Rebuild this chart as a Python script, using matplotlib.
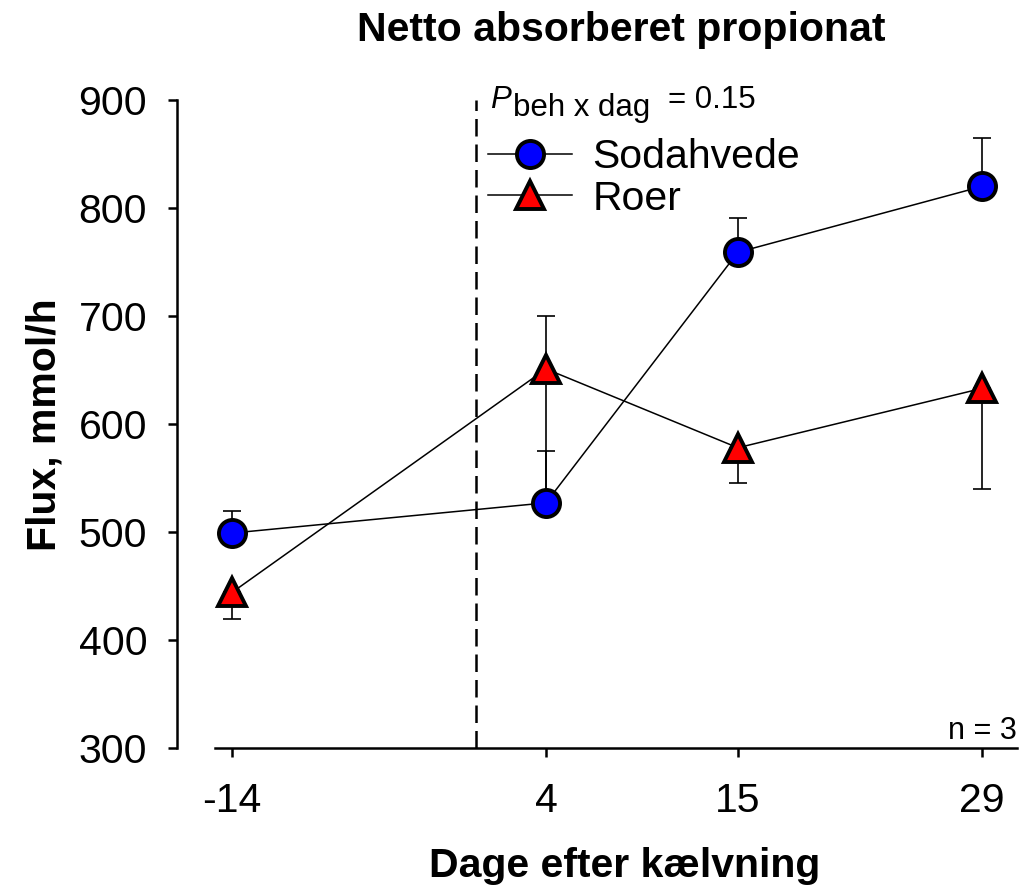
import matplotlib
matplotlib.use("Agg")
import matplotlib.pyplot as plt
from matplotlib.lines import Line2D

plt.rcParams["font.family"] = ["Liberation Sans", "DejaVu Sans"]
plt.rcParams["axes.unicode_minus"] = False

days = [-14, 4, 15, 29]
day_labels = ["-14", "4", "15", "29"]

soda = [499, 527, 759, 820]
soda_err_up = [20, 48, 32, 45]
soda_err_down = [0, 0, 0, 0]

roer = [444, 651, 578, 633]
roer_err_up = [0, 49, 0, 0]
roer_err_down = [25, 124, 33, 93]

W, H = 1021, 893


def fx(px):
    return px / W


def fy(py):
    return 1 - py / H


fig = plt.figure(figsize=(W / 100, H / 100), dpi=100)
ax = fig.add_axes([fx(177), fy(748), (1017 - 177) / W, (748 - 100) / H])

# treatment start
ax.axvline(0, color="black", lw=1.8, linestyle=(0, (7, 3.2)), zorder=1)

ax.errorbar(days, roer, yerr=[roer_err_down, roer_err_up], fmt="none",
            ecolor="black", elinewidth=1.2, capsize=6.5, capthick=1.2, zorder=2)
ax.errorbar(days, soda, yerr=[soda_err_down, soda_err_up], fmt="none",
            ecolor="black", elinewidth=1.2, capsize=6.5, capthick=1.2, zorder=2)

mk = dict(markersize=19.5, markeredgecolor="black", markeredgewidth=2.8)
ax.plot(days, roer, color="black", lw=1.1, marker="^",
        markerfacecolor="red", zorder=3, **mk)
ax.plot(days, soda, color="black", lw=1.1, marker="o",
        markerfacecolor="blue", zorder=4, **mk)

ax.set_xlim(-17.15, 31.0)
ax.set_ylim(300, 900)
ax.set_xticks(days)
ax.set_xticklabels(day_labels)
ax.set_yticks(range(300, 901, 100))

for side in ["top", "right"]:
    ax.spines[side].set_visible(False)
ax.spines["left"].set_linewidth(1.8)
ax.spines["bottom"].set_linewidth(1.8)
ax.spines["left"].set_bounds(300, 900)
ax.spines["bottom"].set_bounds(-15, 31)

ax.tick_params(axis="both", direction="out", length=6.5, width=1.8,
               labelsize=29.5)
ax.tick_params(axis="y", pad=15)
ax.tick_params(axis="x", pad=18)

handles = [
    Line2D([], [], color="black", lw=1.1, marker="o",
           markerfacecolor="blue", **mk),
    Line2D([], [], color="black", lw=1.1, marker="^",
           markerfacecolor="red", **mk),
]
fig.legend(handles, ["Sodahvede", "Roer"], loc="center left",
           bbox_to_anchor=(fx(488), fy(178)), frameon=False, fontsize=29.5,
           handlelength=2.05, handletextpad=0.5, labelspacing=0.08,
           borderpad=0, borderaxespad=0)

fig.text(fx(490), fy(108), "P", fontsize=22.5, style="italic", va="baseline")
fig.text(fx(513), fy(116), "beh x dag", fontsize=22.5, va="baseline")
fig.text(fx(668), fy(108), "= 0.15", fontsize=22.5, va="baseline")

fig.text(fx(1017), fy(739), "n = 3", fontsize=22, ha="right", va="baseline")

fig.text(fx(621), fy(30), "Netto absorberet propionat", fontsize=29.5,
         fontweight="bold", ha="center", va="center")
fig.text(fx(625), fy(866), "Dage efter kælvning", fontsize=29.5,
         fontweight="bold", ha="center", va="center")
fig.text(fx(45), fy(425), "Flux, mmol/h", fontsize=29.5, fontweight="bold",
         rotation=90, ha="center", va="center")

fig.savefig("out.png", dpi=100)
